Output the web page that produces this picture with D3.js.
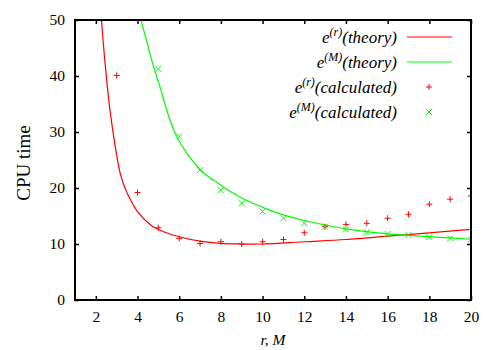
<!DOCTYPE html>
<html>
<head>
<meta charset="utf-8">
<script src="https://cdn.jsdelivr.net/npm/d3@7"></script>
<style>
  html, body { margin: 0; padding: 0; background: #fff; }
  svg { display: block; }
</style>
</head>
<body>
<div id="chart"></div>
<script>
// data
const rCalcX = [3, 4, 5, 6, 7, 8, 9, 10, 11, 12, 13, 14, 15, 16, 17, 18, 19, 20];
const rCalcY = [40.1, 19.2, 12.9, 11.0, 10.1, 10.4, 10.0, 10.4, 10.8, 12.0, 13.1, 13.5, 13.7, 14.6, 15.3, 17.1, 18.0, 18.6];

const mCalcX = [5, 6, 7, 8, 9, 10, 11, 12, 13, 14, 15, 16, 17, 18, 19, 20];
const mCalcY = [41.25, 29.2, 23.2, 19.6, 17.3, 15.8, 14.6, 13.7, 13.1, 12.6, 12.1, 11.8, 11.6, 11.25, 11.0, 10.8];

const rTheoryX = [2.2, 2.27, 2.45, 2.71, 3.19, 3.48, 4, 4.63, 5, 6, 7, 8, 9, 10, 12, 14, 16, 18, 20];
const rTheoryY = [54, 50, 42, 33, 22.3, 19.3, 15.8, 13.4, 12.6, 11.3, 10.5, 10.1, 10.0, 10.0, 10.4, 10.8, 11.4, 12.0, 12.6];

const mTheoryX = [4.1, 4.17, 4.79, 5, 5.84, 7, 8, 9, 10, 11, 12, 13, 14, 15, 16, 17, 18, 19, 20];
const mTheoryY = [51, 50, 41.4, 39.0, 29.5, 23.3, 20.5, 18.2, 16.55, 15.2, 14.2, 13.4, 12.7, 12.2, 11.8, 11.55, 11.3, 11.1, 10.85];

const xTicks = [2, 4, 6, 8, 10, 12, 14, 16, 18, 20];
const yTicks = [0, 10, 20, 30, 40, 50];

const legendNames = ["theory", "theory", "calculated", "calculated"];
const legendSup = ["(r)", "(M)", "(r)", "(M)"];

const width = 500, height = 350;
const margin = { top: 20, right: 29, bottom: 50, left: 75 };
const RED = "#ff0000", GREEN = "#00ff00";
const SERIF = '"Liberation Serif"';

const svg = d3.select("#chart").append("svg")
    .attr("width", width)
    .attr("height", height);

const x = d3.scaleLinear().domain([1, 20]).range([margin.left, width - margin.right]);
const y = d3.scaleLinear().domain([0, 50]).range([height - margin.bottom, margin.top]);

// clip to plot area
svg.append("defs").append("clipPath").attr("id", "plot")
    .append("rect")
    .attr("x", x(1)).attr("y", y(50))
    .attr("width", x(20) - x(1)).attr("height", y(0) - y(50));

// axes, inward ticks on all four sides
const tick = 4;
const styleAxis = g => {
    g.attr("font-family", null).attr("font-size", null);
    g.select(".domain").remove();
    g.selectAll(".tick line").attr("stroke", "#000").attr("stroke-width", 1.5);
    g.selectAll(".tick text").attr("fill", "#000")
        .style("font-family", SERIF).style("font-size", "15.5px");
};

svg.append("g")
    .attr("transform", `translate(0,${y(0)})`)
    .call(d3.axisBottom(x).tickValues(xTicks).tickSize(-tick).tickPadding(11))
    .call(styleAxis);
svg.append("g")
    .attr("transform", `translate(0,${y(50)})`)
    .call(d3.axisTop(x).tickValues(xTicks).tickSize(-tick).tickFormat(""))
    .call(styleAxis);
svg.append("g")
    .attr("transform", `translate(${x(1)},0)`)
    .call(d3.axisLeft(y).tickValues(yTicks).tickSize(-tick).tickPadding(10))
    .call(styleAxis);
svg.append("g")
    .attr("transform", `translate(${x(20)},0)`)
    .call(d3.axisRight(y).tickValues(yTicks).tickSize(-tick).tickFormat(""))
    .call(styleAxis);

// theory curves
const line = d3.line().x(d => x(d[0])).y(d => y(d[1])).curve(d3.curveCatmullRom.alpha(0.5));
const plot = svg.append("g").attr("clip-path", "url(#plot)");

plot.append("path")
    .datum(rTheoryX.map((v, i) => [v, rTheoryY[i]]))
    .attr("d", line).attr("fill", "none").attr("stroke", RED).attr("stroke-width", 1.2);
plot.append("path")
    .datum(mTheoryX.map((v, i) => [v, mTheoryY[i]]))
    .attr("d", line).attr("fill", "none").attr("stroke", GREEN).attr("stroke-width", 1.2);

// calculated points
const s = 3;
const plus = (px, py) => `M${px - s},${py}H${px + s}M${px},${py - s}V${py + s}`;
const cross = (px, py) => `M${px - s},${py - s}L${px + s},${py + s}M${px - s},${py + s}L${px + s},${py - s}`;

plot.append("g").selectAll("path")
    .data(rCalcX.map((v, i) => [v, rCalcY[i]]))
    .enter().append("path")
    .attr("d", d => plus(x(d[0]), y(d[1])))
    .attr("stroke", RED).attr("stroke-width", 1);
plot.append("g").selectAll("path")
    .data(mCalcX.map((v, i) => [v, mCalcY[i]]))
    .enter().append("path")
    .attr("d", d => cross(x(d[0]), y(d[1])))
    .attr("stroke", GREEN).attr("stroke-width", 1);

// border
svg.append("rect")
    .attr("x", x(1)).attr("y", y(50))
    .attr("width", x(20) - x(1)).attr("height", y(0) - y(50))
    .attr("fill", "none").attr("stroke", "#000").attr("stroke-width", 2);

// axis titles
svg.append("text")
    .attr("transform", `translate(30,${(y(0) + y(50)) / 2 + 3}) rotate(-90)`)
    .attr("text-anchor", "middle")
    .style("font-family", SERIF)
    .style("font-size", "19px")
    .text("CPU time");
svg.append("text")
    .attr("x", (x(1) + x(20)) / 2)
    .attr("y", 345)
    .attr("text-anchor", "middle")
    .style("font-family", SERIF)
    .style("font-size", "15.5px")
    .style("font-style", "italic")
    .text("r, M");

// legend
const legend = svg.append("g");
legendNames.forEach((name, i) => {
    const ly = 37 + i * 25;
    const t = legend.append("text")
        .attr("x", 397).attr("y", ly + 6)
        .attr("text-anchor", "end")
        .style("font-family", SERIF)
        .style("font-size", "17px")
        .style("font-style", "italic");
    t.append("tspan").text("e");
    t.append("tspan").attr("dy", -7).style("font-size", "12px").text(legendSup[i]);
    t.append("tspan").attr("dy", 7).text(`(${name})`);

    const color = i % 2 === 0 ? RED : GREEN;
    if (i < 2) {
        legend.append("line")
            .attr("x1", 407).attr("x2", 452)
            .attr("y1", ly).attr("y2", ly)
            .attr("stroke", color).attr("stroke-width", 1.2);
    } else {
        legend.append("path")
            .attr("d", i === 2 ? plus(429, ly) : cross(429, ly))
            .attr("stroke", color).attr("stroke-width", 1);
    }
});
</script>
</body>
</html>
